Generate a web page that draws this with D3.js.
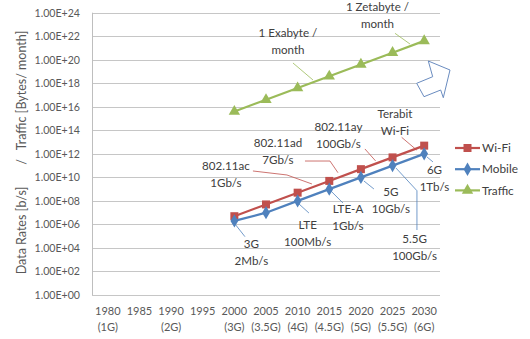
<!DOCTYPE html>
<html>
<head>
<meta charset="utf-8">
<script src="https://cdn.jsdelivr.net/npm/d3@7"></script>
<style>
  html, body { margin: 0; padding: 0; background: #fff; }
  svg { display: block; font-family: Lato, "Open Sans", sans-serif; }
</style>
</head>
<body>
<svg id="chart" width="530" height="339"></svg>
<script>
// Years on the category axis and the mobile generation under each one
const years = ["1980", "1985", "1990", "1995", "2000", "2005", "2010", "2015", "2020", "2025", "2030"];
const generations = ["(1G)", "", "(2G)", "", "(3G)", "(3.5G)", "(4G)", "(4.5G)", "(5G)", "(5.5G)", "(6G)"];

// Series values (data rates in b/s, traffic in bytes/month), 2000 to 2030
const seriesYears = ["2000", "2005", "2010", "2015", "2020", "2025", "2030"];
const wifi    = [5e6, 5e7, 5e8, 5e9, 5e10, 5e11, 5e12];
const mobile  = [2e6, 1e7, 1e8, 1e9, 1e10, 1e11, 1e12];
const traffic = [4e15, 4e16, 4e17, 4e18, 4e19, 4e20, 4e21];

// Value axis: every second power of ten
const yTickExponents = [0, 2, 4, 6, 8, 10, 12, 14, 16, 18, 20, 22, 24];
const yTickLabels = yTickExponents.map(e => "1.00E+" + String(e).padStart(2, "0"));

const seriesNames = ["Wi-Fi", "Mobile", "Traffic"];

// Callouts tied to a point of a series
const callouts = [
  { series: "Mobile", year: "2000", lines: ["3G", "2Mb/s"] },
  { series: "Mobile", year: "2010", lines: ["LTE", "100Mb/s"] },
  { series: "Mobile", year: "2015", lines: ["LTE-A", "1Gb/s"] },
  { series: "Mobile", year: "2020", lines: ["5G", "10Gb/s"] },
  { series: "Mobile", year: "2025", lines: ["5.5G", "100Gb/s"] },
  { series: "Mobile", year: "2030", lines: ["6G", "1Tb/s"] },
  { series: "Wi-Fi", year: "2010", lines: ["802.11ac", "1Gb/s"] },
  { series: "Wi-Fi", year: "2015", lines: ["802.11ad", "7Gb/s"] },
  { series: "Wi-Fi", year: "2020", lines: ["802.11ay", "100Gb/s"] },
  { series: "Wi-Fi", year: "2030", lines: ["Terabit", "Wi-Fi"] },
  { series: "Traffic", year: "2015", lines: ["1 Exabyte /", "month"] },
  { series: "Traffic", year: "2030", lines: ["1 Zetabyte /", "month"] }
];

// Placement of each callout's text and leader, relative to its point (same order as above)
const calloutLayout = [
  { label: [17, 23],    leader: [[0.6, 3.1], [10.6, 15.8]] },
  { label: [10, 24],    leader: [[0.3, 2.1], [11.3, 12.1]] },
  { label: [18.7, 19.2], leader: [[1.7, 1.9], [13.7, 13.9]] },
  { label: [30, 14.3],  leader: [[3, 3.6], [13, 11.6]] },
  { label: [22, 73.4],  leader: [[3.4, 2.4], [24.4, 25.1], [24.4, 64.4]] },
  { label: [10.3, 15.8], leader: [[2.8, 3.1], [8.8, 8.1]] },
  { label: [-71.7, -26.7], leader: [[-44.7, -21.7], [-10.7, -17.7], [14.3, -8.7]] },
  { label: [-51.3, -37.9], leader: [[-24.3, -19.9], [0.7, -19.9], [8.7, -8.2]] },
  { label: [-22.5, -41.9], leader: [[4, -20.2], [14.7, -8.2]] },
  { label: [-29.2, -32.3], leader: [[-22.5, -8.3], [-7.5, 4.4]] },
  { label: [-41.3, -43.2], leader: [[-36.3, -13.2], [-16.3, 3.8]] },
  { label: [-46.7, -33.9], leader: [[-29.2, -7.6], [-14.2, 3.1]] }
];

const colors = { "Wi-Fi": "#C0504D", "Mobile": "#4F81BD", "Traffic": "#9BBB59" };
const symbols = { "Wi-Fi": d3.symbolSquare, "Mobile": d3.symbolDiamond, "Traffic": d3.symbolTriangle };
const symbolSizes = { "Wi-Fi": 64, "Mobile": 52, "Traffic": 56 };
const valuesBySeries = { "Wi-Fi": wifi, "Mobile": mobile, "Traffic": traffic };

const svg = d3.select("#chart");
const plot = { left: 92, right: 440, top: 12.7, bottom: 295 };

const x = d3.scaleBand().domain(years).range([plot.left, plot.right]).paddingInner(0).paddingOuter(0);
const xc = yr => x(yr) + x.bandwidth() / 2;
const y = d3.scaleLog().domain([1, 1e24]).range([plot.bottom, plot.top]);

// Horizontal gridlines
svg.append("g")
  .selectAll("line")
  .data(yTickExponents)
  .join("line")
  .attr("x1", plot.left).attr("x2", plot.right)
  .attr("y1", e => Math.round(y(Math.pow(10, e))) + 0.5)
  .attr("y2", e => Math.round(y(Math.pow(10, e))) + 0.5)
  .attr("stroke", "#C6C6C6").attr("stroke-width", 1);

// Value axis
const yAxis = d3.axisLeft(y)
  .tickValues(yTickExponents.map(e => Math.pow(10, e)))
  .tickFormat((d, i) => yTickLabels[i])
  .tickSize(0).tickPadding(12);
const yg = svg.append("g").attr("transform", `translate(${plot.left},0)`).call(yAxis);
yg.select(".domain").attr("stroke", "#BEBEBE").attr("d", `M0.5,${plot.top}V${plot.bottom}`);
yg.selectAll(".tick line").remove();
yg.selectAll("text").attr("fill", "#595959").style("font-size", "10.6px").style("font-family", "Lato, sans-serif");

// Category axis, two-line labels
const xAxis = d3.axisBottom(x).tickSize(0).tickFormat(() => "");
const xg = svg.append("g").attr("transform", `translate(0,${plot.bottom})`).call(xAxis);
xg.select(".domain").remove();
xg.selectAll(".tick text").remove();
xg.selectAll(".tick").each(function (d, i) {
  const t = d3.select(this).append("text")
    .attr("fill", "#595959").attr("text-anchor", "middle")
    .style("font-size", "11px").style("font-family", "Lato, sans-serif");
  t.append("tspan").attr("x", 0).attr("y", 20).text(years[i]);
  t.append("tspan").attr("x", 0).attr("y", 36).text(generations[i]);
});

// Axis title
const titleG = svg.append("g").attr("fill", "#595959")
  .style("font-size", "12.5px").style("font-family", "Lato, sans-serif")
  .attr("text-anchor", "middle");
[["Traffic [Bytes/ month]", 90.5], ["/", 162], ["Data Rates [b/s]", 230.5]].forEach(([txt, cy]) => {
  titleG.append("text")
    .attr("transform", `translate(26,${cy}) rotate(-90)`)
    .text(txt);
});

// Series lines and markers
const line = d3.line().x(d => xc(d.year)).y(d => y(d.value));
seriesNames.forEach(name => {
  const pts = seriesYears.map((yr, i) => ({ year: yr, value: valuesBySeries[name][i] }));
  svg.append("path")
    .datum(pts)
    .attr("d", line)
    .attr("fill", "none")
    .attr("stroke", colors[name])
    .attr("stroke-width", 2.2);
  svg.append("g")
    .selectAll("path")
    .data(pts)
    .join("path")
    .attr("transform", d => `translate(${xc(d.year)},${y(d.value)})`)
    .attr("d", d3.symbol().type(symbols[name]).size(symbolSizes[name]))
    .attr("fill", colors[name]);
});

// Callouts with leader lines
callouts.forEach((c, i) => {
  const idx = seriesYears.indexOf(c.year);
  const px = xc(c.year);
  const py = y(valuesBySeries[c.series][idx]);
  const lay = calloutLayout[i];
  svg.append("path")
    .attr("d", d3.line()(lay.leader.map(([dx, dy]) => [px + dx, py + dy])))
    .attr("fill", "none")
    .attr("stroke", colors[c.series])
    .attr("stroke-width", 0.8);
  const t = svg.append("text")
    .attr("text-anchor", "middle")
    .attr("fill", "#404040")
    .style("font-size", "11.6px").style("font-family", "Lato, sans-serif");
  c.lines.forEach((ln, k) => {
    t.append("tspan")
      .attr("x", px + lay.label[0])
      .attr("y", py + lay.label[1] + k * 17)
      .attr("dy", "0.36em")
      .text(ln);
  });
});

// Block arrow pointing beyond 2030
const arrowPts = [[428.3, 61], [450, 70], [443.3, 97.7], [440.7, 90], [424, 96.7], [416.7, 83.3], [432.7, 76.7]];
svg.append("polygon")
  .attr("points", arrowPts.map(p => p.join(",")).join(" "))
  .attr("fill", "#fff")
  .attr("stroke", "#6A8CC0")
  .attr("stroke-width", 1);

// Legend
const legend = svg.append("g");
seriesNames.forEach((name, i) => {
  const ly = 148 + i * 21.2;
  legend.append("line")
    .attr("x1", 455).attr("x2", 480).attr("y1", ly).attr("y2", ly)
    .attr("stroke", colors[name]).attr("stroke-width", 2.2);
  legend.append("path")
    .attr("transform", `translate(467.5,${ly})`)
    .attr("d", d3.symbol().type(symbols[name]).size(symbolSizes[name]))
    .attr("fill", colors[name]);
  legend.append("text")
    .attr("x", 482).attr("y", ly).attr("dy", "0.36em")
    .attr("fill", "#404040")
    .style("font-size", "11.8px").style("font-family", "Lato, sans-serif")
    .text(name);
});
</script>
</body>
</html>
